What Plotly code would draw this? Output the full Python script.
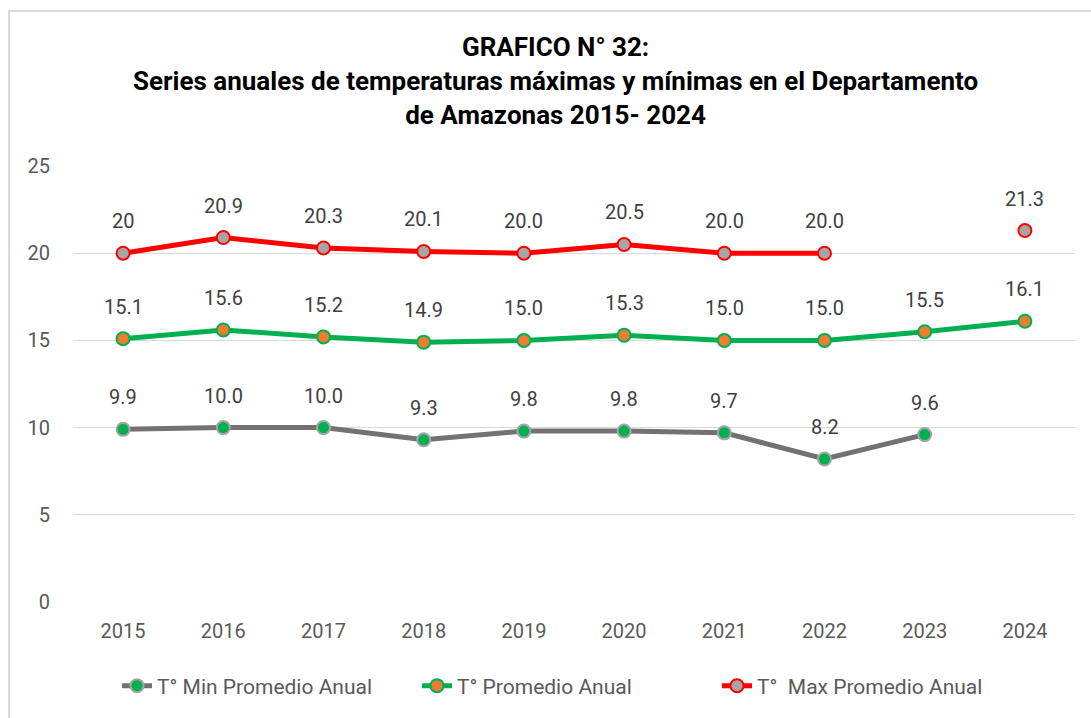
import plotly.graph_objects as go

years = ["2015", "2016", "2017", "2018", "2019", "2020", "2021", "2022", "2023", "2024"]
t_min = [9.9, 10.0, 10.0, 9.3, 9.8, 9.8, 9.7, 8.2, 9.6, None]
t_prom = [15.1, 15.6, 15.2, 14.9, 15.0, 15.3, 15.0, 15.0, 15.5, 16.1]
t_max = [20.0, 20.9, 20.3, 20.1, 20.0, 20.5, 20.0, 20.0, None, 21.3]
# label number formats per point (the first max value is shown without decimals)
t_max_fmt = ["{:g}"] + ["{:.1f}"] * 9

W, H = 1091, 718
ML, MR, MT, MB = 73, 16, 166, 116
PW, PH = W - ML - MR, H - MT - MB

series = [
    ("T° Min Promedio Anual", t_min, "#767171", "#00B050", "#A5A5A5", ["{:.1f}"] * 10),
    ("T° Promedio Anual", t_prom, "#00B050", "#ED7D31", "#00B050", ["{:.1f}"] * 10),
    ("T°  Max Promedio Anual", t_max, "#FF0000", "#A5A5A5", "#FF0000", t_max_fmt),
]

fig = go.Figure()
annotations = []
for name, vals, lc, mfill, mline, fmts in series:
    fig.add_trace(go.Scatter(
        x=years, y=vals, name=name, mode="lines+markers",
        line=dict(color=lc, width=5),
        marker=dict(size=13, color=mfill, line=dict(color=mline, width=2)),
        connectgaps=False,
    ))
    # value labels above each point (category axes take the category index)
    for i, (v, f) in enumerate(zip(vals, fmts)):
        if v is None:
            continue
        annotations.append(dict(
            x=i, y=v, xref="x", yref="y", text=f.format(v), showarrow=False,
            yshift=32, font=dict(family="Roboto", size=20, color="#404040"),
        ))

annotations.append(dict(
    text="<b>GRAFICO N° 32:<br>Series anuales de temperaturas máximas y mínimas en el Departamento<br>de Amazonas 2015- 2024</b>",
    x=(555 - ML) / PW, y=1 + (MT - 30) / PH,
    xref="paper", yref="paper", xanchor="center", yanchor="top",
    showarrow=False, align="center",
    font=dict(family="Roboto", size=26, color="#000000"),
))

# outer chart frame
shapes = [dict(
    type="rect", xref="paper", yref="paper",
    x0=(9 - ML) / PW, x1=(W + 20 - ML) / PW,
    y0=-(MB + 20) / PH, y1=1 + (MT - 11) / PH,
    line=dict(color="#D9D9D9", width=2), fillcolor="rgba(0,0,0,0)", layer="below",
)]

fig.update_layout(
    width=W, height=H,
    margin=dict(l=ML, r=MR, t=MT, b=MB),
    paper_bgcolor="white", plot_bgcolor="white",
    annotations=annotations, shapes=shapes,
    showlegend=True,
    legend=dict(
        orientation="h", x=(567 - ML) / PW, xanchor="center",
        y=-(686 - (H - MB)) / PH, yanchor="middle",
        font=dict(family="Roboto", size=21, color="#595959"),
        entrywidth=255, entrywidthmode="pixels", tracegroupgap=0,
    ),
    xaxis=dict(
        type="category", range=[-0.5, 9.5], showgrid=False, zeroline=False,
        showline=False, ticks="", ticklabelstandoff=15,
        tickfont=dict(family="Roboto", size=20, color="#595959"),
    ),
    yaxis=dict(
        range=[0, 25], dtick=5, showgrid=True, gridcolor="#D9D9D9", gridwidth=1,
        zeroline=False, showline=False, ticks="", ticklabelstandoff=22,
        tickfont=dict(family="Roboto", size=20, color="#595959"),
    ),
)

fig.write_html("out.html")
